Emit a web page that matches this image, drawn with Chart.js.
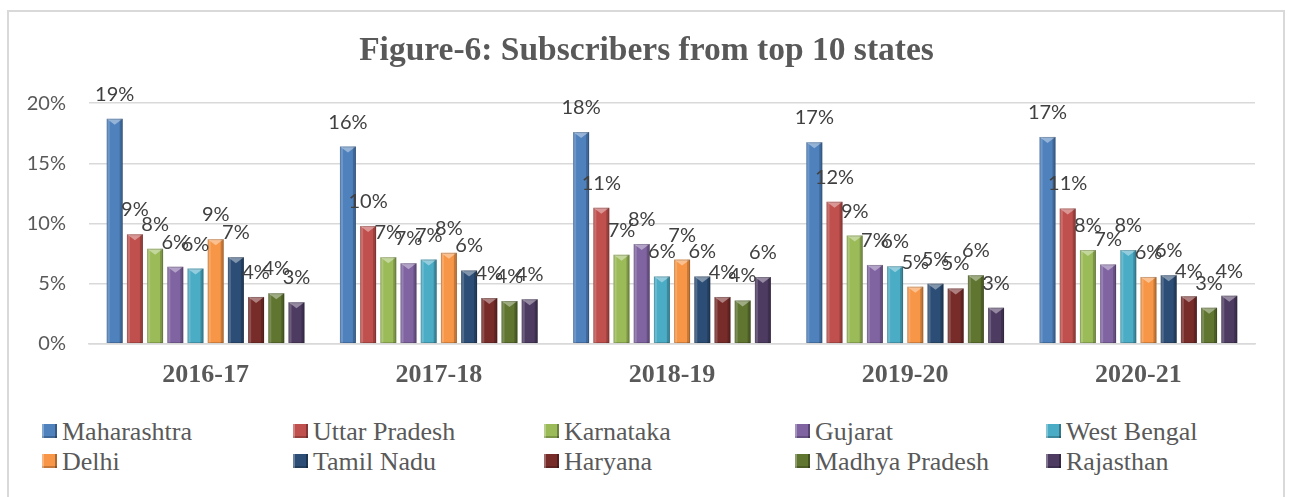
<!DOCTYPE html>
<html>
<head>
<meta charset="utf-8">
<title>Figure-6: Subscribers from top 10 states</title>
<script src="https://cdn.jsdelivr.net/npm/chart.js@4.4.0/dist/chart.umd.min.js"></script>
<style>
    html, body { margin: 0; padding: 0; background: #fff; }
    body { width: 1293px; height: 497px; position: relative; overflow: hidden; }
    .frame { position: absolute; left: 7px; top: 10px; width: 1274px; height: 520px; border: 2px solid #D9D9D9; pointer-events: none; }
    .chart-container { position: absolute; left: 0; top: 0; width: 1293px; height: 410px; }
    #legend { position: absolute; left: 42px; top: 417px; display: grid; grid-template-columns: repeat(5, 251px);
              font-family: 'Liberation Serif', 'Times New Roman', serif; font-size: 26px; line-height: 30px; color: #595959; }
    .item { display: flex; align-items: center; white-space: nowrap; }
    .swatch { flex: none; width: 15px; height: 14px; margin-right: 5px; margin-top: -3px;
              box-shadow: inset 2px 0 rgba(255,255,255,0.3), inset -2px 0 rgba(0,0,0,0.3), inset 0 -2px rgba(0,0,0,0.2); }
</style>
</head>
<body>
<div class="chart-container"><canvas id="stateChart"></canvas></div>
<div id="legend"></div>
<div class="frame"></div>
<script>
// categories
const years = ['2016-17', '2017-18', '2018-19', '2019-20', '2020-21'];
const states = ['Maharashtra', 'Uttar Pradesh', 'Karnataka', 'Gujarat', 'West Bengal',
                'Delhi', 'Tamil Nadu', 'Haryana', 'Madhya Pradesh', 'Rajasthan'];

// share of subscribers (%)
const maharashtra   = [18.7, 16.4, 17.6, 16.75, 17.2];
const uttarPradesh  = [9.1, 9.8, 11.3, 11.8, 11.25];
const karnataka     = [7.9, 7.2, 7.4, 9.0, 7.8];
const gujarat       = [6.4, 6.7, 8.3, 6.56, 6.6];
const westBengal    = [6.25, 7.0, 5.6, 6.45, 7.8];
const delhi         = [8.7, 7.56, 7.0, 4.75, 5.56];
const tamilNadu     = [7.2, 6.1, 5.6, 5.0, 5.7];
const haryana       = [3.9, 3.8, 3.9, 4.6, 3.95];
const madhyaPradesh = [4.2, 3.55, 3.6, 5.7, 3.0];
const rajasthan     = [3.45, 3.7, 5.55, 3.0, 4.0];

// y axis ticks
const yTicks = [0, 5, 10, 15, 20];

const seriesValues = [maharashtra, uttarPradesh, karnataka, gujarat, westBengal,
                      delhi, tamilNadu, haryana, madhyaPradesh, rajasthan];
const colors = ['#4F81BD', '#C0504D', '#9BBB59', '#8064A2', '#4BACC6',
                '#F79646', '#2C4D75', '#772C2A', '#5F7530', '#4D3B62'];

// 3D-ish bevel on bars + value labels above them
const barDecor = {
    id: 'barDecor',
    afterDatasetsDraw(chart) {
        const ctx = chart.ctx;
        chart.data.datasets.forEach((ds, i) => {
            chart.getDatasetMeta(i).data.forEach(bar => {
                const w = bar.width;
                const left = bar.x - w / 2;
                const top = bar.y;
                const h = bar.base - bar.y;
                ctx.save();
                ctx.fillStyle = 'rgba(255,255,255,0.18)';
                ctx.fillRect(left, top, 3, h);
                ctx.fillStyle = 'rgba(0,0,0,0.2)';
                ctx.fillRect(left + w - 3, top, 3, h);
                ctx.beginPath();
                ctx.moveTo(left, top);
                ctx.lineTo(left + w, top);
                ctx.lineTo(bar.x, top + 6);
                ctx.closePath();
                ctx.fillStyle = 'rgba(255,255,255,0.4)';
                ctx.fill();
                ctx.strokeStyle = 'rgba(0,0,0,0.18)';
                ctx.lineWidth = 1;
                ctx.strokeRect(left + 0.5, top + 0.5, w - 1, h - 1);
                ctx.restore();
            });
        });
        // labels on top of everything
        ctx.save();
        ctx.font = '20px Lato, "Liberation Sans", sans-serif';
        ctx.fillStyle = '#404040';
        ctx.textAlign = 'center';
        ctx.textBaseline = 'alphabetic';
        chart.data.datasets.forEach((ds, i) => {
            chart.getDatasetMeta(i).data.forEach((bar, j) => {
                ctx.fillText(Math.round(ds.data[j]) + '%', bar.x, bar.y - 18);
            });
        });
        ctx.restore();
    }
};

const ctx = document.getElementById('stateChart').getContext('2d');
new Chart(ctx, {
    type: 'bar',
    data: {
        labels: years,
        datasets: states.map((name, i) => ({
            label: name,
            data: seriesValues[i],
            backgroundColor: colors[i],
            borderWidth: 0,
            categoryPercentage: 0.866,
            barPercentage: 0.79
        }))
    },
    options: {
        responsive: true,
        maintainAspectRatio: false,
        animation: false,
        layout: { padding: { left: 0, right: 0, top: 0, bottom: 3 } },
        scales: {
            x: {
                grid: { display: false, drawTicks: false },
                border: { color: '#D9D9D9', width: 1.5 },
                ticks: {
                    padding: 16,
                    color: '#595959',
                    font: { family: "'Liberation Serif', 'Times New Roman', serif", size: 26, weight: 'bold' }
                }
            },
            y: {
                min: 0,
                max: 20,
                afterBuildTicks: axis => { axis.ticks = yTicks.map(v => ({ value: v })); },
                afterFit: axis => { axis.width = 89; },
                grid: { color: '#D9D9D9', lineWidth: 1.5, drawTicks: false },
                border: { display: false },
                ticks: {
                    padding: 23,
                    color: '#595959',
                    font: { family: 'Lato, "Liberation Sans", sans-serif', size: 20 },
                    callback: v => v + '%'
                }
            },
            // empty right axis, only keeps the plot clear of the right edge
            yRight: {
                position: 'right',
                min: 0,
                max: 20,
                afterFit: axis => { axis.width = 38; },
                grid: { display: false, drawTicks: false },
                border: { display: false },
                ticks: { display: false }
            }
        },
        plugins: {
            legend: { display: false },
            tooltip: { enabled: false },
            title: {
                display: true,
                text: 'Figure-6: Subscribers from top 10 states',
                color: '#595959',
                font: { family: "'Liberation Serif', 'Times New Roman', serif", size: 33.5, weight: 'bold' },
                padding: { top: 31, bottom: 32 }
            }
        }
    },
    plugins: [barDecor]
});

// legend as real text in five fixed columns
const legend = document.getElementById('legend');
states.forEach((name, i) => {
    const item = document.createElement('div');
    item.className = 'item';
    const sw = document.createElement('span');
    sw.className = 'swatch';
    sw.style.background = colors[i];
    item.appendChild(sw);
    item.appendChild(document.createTextNode(name));
    legend.appendChild(item);
});
</script>
</body>
</html>
